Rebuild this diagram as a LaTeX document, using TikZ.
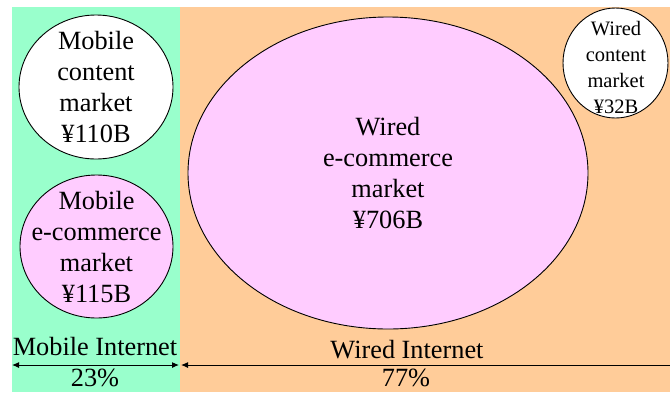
\documentclass[tikz,border=0pt]{standalone}
\usepackage{fontspec}
\setmainfont{Liberation Serif}
\usetikzlibrary{shapes.geometric,arrows.meta}
\definecolor{mobgreen}{HTML}{99FFCC}
\definecolor{wiredorange}{HTML}{FFCC99}
\definecolor{pinkfill}{HTML}{FFCCFF}
\tikzset{
  market/.style={ellipse, draw=black, line width=0.9pt, inner sep=0pt},
  mtext/.style={inner sep=0pt, align=center, font=\fontsize{26.3}{31}\selectfont},
  smalltext/.style={inner sep=0pt, align=center, font=\fontsize{20.5}{26}\selectfont},
  lbl/.style={anchor=base, inner sep=0pt, font=\fontsize{26.3}{31}\selectfont},
  dimarrow/.style={line width=1pt, {Latex[length=7pt,width=6pt]}-{Latex[length=7pt,width=6pt]}},
  dimarrowL/.style={line width=1pt, {Latex[length=7pt,width=6pt]}-}
}
\begin{document}
\begin{tikzpicture}[x=1pt,y=-1pt]
\useasboundingbox (0,0) rectangle (670,392);
\fill[white] (0,0) rectangle (670,392);
\fill[mobgreen] (12,7) rectangle (180,392);
\fill[wiredorange] (180,7) rectangle (670,392);

\node[market, fill=white, minimum width=154pt, minimum height=144pt] (mc) at (96,87) {};
\node[market, fill=pinkfill, minimum width=153pt, minimum height=143pt] (me) at (96.5,246.5) {};
\node[market, fill=pinkfill, minimum width=400pt, minimum height=312pt] (we) at (388,173) {};
\node[market, fill=white, minimum width=105pt, minimum height=110pt] (wc) at (615.5,63) {};

\node[mtext] (mct) at (96,86.6) {Mobile\\content\\market\\¥110B};
\node[mtext] (met) at (96.5,246.6) {Mobile\\e-commerce\\market\\¥115B};
\node[mtext] (wet) at (388,172.5) {Wired\\e-commerce\\market\\¥706B};
\node[smalltext] (wct) at (616,67) {Wired\\content\\market\\¥32B};

\node[lbl] (mi) at (95,355) {Mobile Internet};
\node[lbl] (mp) at (95,386.5) {23\%};
\node[lbl] (wi) at (407,358) {Wired Internet};
\node[lbl] (wp) at (406,386.5) {77\%};

\coordinate (mL) at (12,365);
\coordinate (mR) at (179,365);
\coordinate (wL) at (181,365);
\coordinate (wR) at (670,365);
\draw[dimarrow] (mL) -- (mR);
\draw[dimarrowL] (wL) -- (wR);
\end{tikzpicture}
\end{document}
